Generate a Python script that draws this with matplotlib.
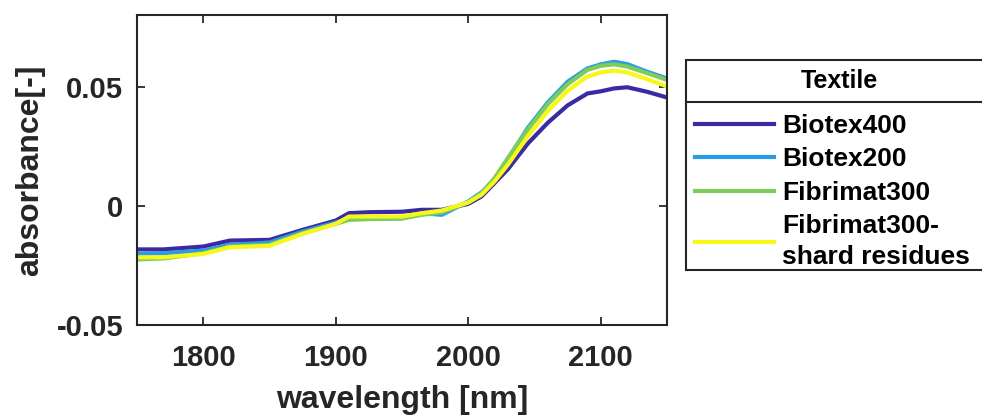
import matplotlib.pyplot as plt
from matplotlib.patches import Rectangle
from matplotlib.lines import Line2D

plt.rcParams['font.family'] = ['Liberation Sans', 'DejaVu Sans']
plt.rcParams['font.weight'] = 'bold'

# wavelength grid [nm] and absorbance
wavelength = [1750, 1770, 1800, 1820, 1850, 1875, 1900, 1910, 1925, 1950, 1965, 1980,
              2000, 2010, 2020, 2030, 2045, 2060, 2075, 2090, 2100, 2110, 2120, 2135, 2150]

biotex400 = [-0.0183, -0.0183, -0.0171, -0.0146, -0.0143, -0.0101, -0.0062, -0.0031, -0.0027,
             -0.0025, -0.0017, -0.0017, 0.0008, 0.0039, 0.0096, 0.0154, 0.0261, 0.0348,
             0.0421, 0.0471, 0.0480, 0.0492, 0.0497, 0.0478, 0.0454]
biotex200 = [-0.0202, -0.0199, -0.0188, -0.0164, -0.0154, -0.0108, -0.0070, -0.0056, -0.0053,
             -0.0053, -0.0031, -0.0038, 0.0018, 0.0056, 0.0110, 0.0197, 0.0327, 0.0433,
             0.0520, 0.0576, 0.0593, 0.0604, 0.0594, 0.0562, 0.0534]
fibrimat300 = [-0.0225, -0.0221, -0.0199, -0.0171, -0.0164, -0.0115, -0.0076, -0.0059, -0.0056,
               -0.0053, -0.0038, -0.0028, 0.0014, 0.0053, 0.0117, 0.0201, 0.0320, 0.0426,
               0.0510, 0.0570, 0.0587, 0.0593, 0.0584, 0.0556, 0.0528]
shard = [-0.0216, -0.0216, -0.0202, -0.0174, -0.0168, -0.0118, -0.0076, -0.0045, -0.0045,
         -0.0045, -0.0031, -0.0020, 0.0014, 0.0046, 0.0103, 0.0173, 0.0292, 0.0397,
         0.0482, 0.0542, 0.0559, 0.0567, 0.0559, 0.0531, 0.0500]

series = [biotex400, biotex200, fibrimat300, shard]
labels = ['Biotex400', 'Biotex200', 'Fibrimat300', 'Fibrimat300-\nshard residues']
colors = ['#3b2ba3', '#2b9be6', '#7ccd5a', '#f7f71a']

xticks = [1800, 1900, 2000, 2100]
yticks = [-0.05, 0, 0.05]
ytick_labels = ['-0.05', '0', '0.05']

W, H = 982, 417
fig = plt.figure(figsize=(W / 100, H / 100), dpi=100)
ax = fig.add_axes([137 / W, 92 / H, 530 / W, 310 / H])

handles = []
for y, lab, c in zip(series, labels, colors):
    h, = ax.plot(wavelength, y, color=c, lw=3, label=lab)
    handles.append(h)

ax.set_xlim(1750, 2150)
ax.set_ylim(-0.05, 0.08)
ax.set_xticks(xticks)
ax.set_yticks(yticks)
ax.set_yticklabels(ytick_labels)

dark = '#262626'
for s in ax.spines.values():
    s.set_color(dark)
    s.set_linewidth(1.5)
ax.tick_params(direction='in', length=6, width=1.3, top=True, right=True,
               labelsize=21, colors=dark)
ax.tick_params(axis='x', pad=14)
ax.tick_params(axis='y', pad=10)

ax.set_xlabel('wavelength [nm]', fontsize=23, fontweight='bold', color=dark, labelpad=9)
ax.set_ylabel('absorbance[-]', fontsize=23, fontweight='bold', color=dark, labelpad=8)

# legend box (drawn by hand so it can run off the right edge like the reference)
box_x0, box_x1 = 686 / W, 992 / W
box_top, box_sep, box_bot = 1 - 60 / H, 1 - 102 / H, 1 - 270 / H
fig.add_artist(Rectangle((box_x0, box_bot), box_x1 - box_x0, box_top - box_bot,
                         transform=fig.transFigure, facecolor='white', edgecolor=dark, lw=1.5))
fig.add_artist(Line2D([box_x0, box_x1], [box_sep, box_sep], transform=fig.transFigure,
                      color=dark, lw=1.5))
fig.text((box_x0 + box_x1) / 2, (box_top + box_sep) / 2, 'Textile', ha='center', va='center',
         fontsize=18, fontweight='bold', color='black')

leg = fig.legend(handles=handles, labels=labels, loc='upper left',
                 bbox_to_anchor=(683 / W, box_sep), borderaxespad=0, frameon=False,
                 borderpad=0.45, handlelength=3.0, handletextpad=0.3, labelspacing=0.36,
                 prop={'weight': 'bold', 'size': 19})
for line in leg.get_lines():
    line.set_linewidth(3)
leg.get_texts()[3].set_linespacing(1.35)

fig.savefig('out.png', dpi=100)
